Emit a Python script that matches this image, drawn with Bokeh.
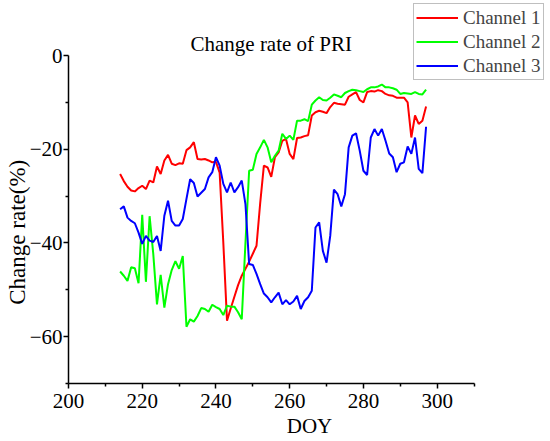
from bokeh.plotting import figure
from bokeh.models import Range1d, FixedTicker, Legend, LegendItem, Label
from bokeh.embed import file_html
from bokeh.resources import INLINE

doy = list(range(214, 298))

channel1 = [-25.3, -26.8, -28.0, -28.8, -29.0, -28.3, -27.8, -28.5, -26.7, -27.1,
            -23.7, -25.3, -22.4, -21.2, -23.1, -23.4, -23.0, -23.1, -20.2, -19.6,
            -18.5, -22.1, -22.2, -22.1, -22.4, -22.8, -22.7, -25.0, -40.0, -56.6,
            -54.0, -51.5, -49.0, -47.0, -45.5, -44.0, -42.3, -40.6, -31.5, -23.5,
            -23.9, -25.9, -21.7, -20.7, -18.2, -17.8, -21.0, -22.1, -17.6, -17.5,
            -17.2, -17.0, -12.8, -12.1, -11.8, -12.0, -12.3, -11.0, -10.1, -10.3,
            -10.4, -10.5, -8.8, -8.3, -7.8, -9.5, -10.0, -7.8, -7.6, -7.7,
            -7.4, -7.6, -8.2, -8.5, -8.6, -9.0, -9.0, -9.0, -10.0, -17.5,
            -12.8, -14.6, -13.9, -10.9]

channel2 = [-46.1, -47.0, -48.1, -45.2, -45.4, -48.6, -34.0, -48.3, -34.3, -42.4,
            -53.1, -46.8, -53.8, -48.8, -45.8, -43.9, -45.5, -42.8, -57.9, -56.3,
            -56.8, -55.6, -53.9, -54.1, -54.7, -53.2, -53.7, -54.1, -55.4, -53.4,
            -53.6, -53.6, -54.8, -56.3, -40.0, -24.6, -24.4, -21.0, -19.6, -18.0,
            -19.6, -22.8, -21.4, -20.3, -16.7, -17.8, -17.1, -18.0, -13.9, -13.9,
            -13.6, -14.0, -10.5, -9.6, -8.9, -9.5, -9.6, -9.0, -8.3, -8.6,
            -8.9, -8.0, -7.6, -7.3, -7.4, -7.6, -7.8, -7.2, -6.8, -6.8,
            -6.6, -6.2, -6.8, -6.8, -7.0, -7.3, -8.2, -8.0, -8.1, -8.2,
            -7.8, -8.2, -8.3, -7.3]

channel3 = [-32.8, -32.2, -34.6, -35.3, -35.8, -37.8, -40.2, -38.5, -39.5, -39.8,
            -38.5, -41.7, -34.2, -31.0, -35.3, -36.3, -36.3, -34.9, -30.6, -26.4,
            -27.2, -30.1, -29.3, -28.5, -26.0, -24.9, -21.7, -23.5, -27.4, -29.2,
            -27.1, -29.2, -28.1, -26.7, -31.7, -44.5, -44.7, -46.6, -48.8, -50.8,
            -51.6, -52.7, -51.6, -50.6, -53.1, -52.2, -53.1, -52.5, -51.3, -54.1,
            -52.4, -51.6, -50.2, -36.7, -35.6, -41.7, -44.2, -38.5, -28.6, -29.6,
            -32.2, -29.6, -19.6, -17.1, -16.6, -20.3, -24.6, -25.5, -17.5, -15.7,
            -17.1, -15.7, -18.2, -20.9, -21.7, -24.9, -23.1, -22.8, -19.4, -21.0,
            -17.5, -24.2, -25.1, -15.2]

series_names = ["Channel 1", "Channel 2", "Channel 3"]
series_colors = ["#FF0000", "#00FF00", "#0000FF"]
title_text = "Change rate of PRI"
x_title = "DOY"
y_title = "Change rate(%)"

x_bounds = (200, 310)
y_bounds = (-70, 0)
x_major = [200, 220, 240, 260, 280, 300]
x_minor = [210, 230, 250, 270, 290, 310]
y_major = [-60, -40, -20, 0]
y_minor = [-70, -50, -30, -10]
y_labels = {-60: "\u221260", -40: "\u221240", -20: "\u221220", 0: "0"}

FONT = "Liberation Serif"

# layout (pixels, canvas coordinates)
W, H = 550, 441
L, B = 68, 58           # left / bottom borders
AX_RIGHT = 473.5        # x pixel of x = 310
AX_TOP = 55             # y pixel of y = 0
frame_w = W - L
frame_h = H - B
xppu = (AX_RIGHT - L) / (x_bounds[1] - x_bounds[0])
yppu = (frame_h - AX_TOP) / (y_bounds[1] - y_bounds[0])
x_end = x_bounds[0] + frame_w / xppu
y_end = y_bounds[1] + AX_TOP / yppu

p = figure(width=W, height=H, output_backend="svg", toolbar_location=None,
           title=None,
           x_range=Range1d(x_bounds[0], x_end), y_range=Range1d(y_bounds[0], y_end),
           min_border_left=L, min_border_right=0, min_border_top=0,
           min_border_bottom=B)

p.outline_line_color = None
p.xgrid.visible = False
p.ygrid.visible = False

renderers = []
for vals, c in zip([channel1, channel2, channel3], series_colors):
    r = p.line(doy, vals, line_color=c, line_width=2)
    renderers.append(r)

title = Label(x=(L + AX_RIGHT) / 2 - L, y=frame_h - 43, x_units="screen", y_units="screen",
              text=title_text, text_font=FONT, text_font_size="21px",
              text_align="center", text_baseline="alphabetic", text_color="black")
p.add_layout(title)

legend = Legend(items=[LegendItem(label=n, renderers=[r]) for n, r in zip(series_names, renderers)],
                location=(345, frame_h - 80))
legend.label_text_font = FONT
legend.label_text_font_size = "19px"
legend.glyph_width = 42
legend.glyph_height = 23
legend.label_height = 23
legend.label_standoff = 5
legend.spacing = 1
legend.padding = 2
legend.margin = 0
legend.border_line_color = "#808080"
legend.border_line_width = 1
legend.background_fill_alpha = 1
p.add_layout(legend)

for ax in (p.xaxis[0], p.yaxis[0]):
    ax.axis_line_color = "black"
    ax.axis_line_width = 1.5
    ax.major_tick_line_width = 1.5
    ax.minor_tick_line_width = 1.5
    ax.major_tick_out = 5
    ax.major_tick_in = 0
    ax.minor_tick_out = 3
    ax.minor_tick_in = 0
    ax.major_label_text_font = FONT
    ax.major_label_text_font_size = "21px"
    ax.major_label_text_color = "black"
    ax.axis_label_text_font = FONT
    ax.axis_label_text_font_style = "normal"
    ax.axis_label_text_color = "black"

p.xaxis.bounds = x_bounds
p.yaxis.bounds = y_bounds
p.xaxis.axis_label_text_font_size = "21px"
p.yaxis.axis_label_text_font_size = "23px"
p.xaxis.ticker = FixedTicker(ticks=x_major, minor_ticks=x_minor)
p.yaxis.ticker = FixedTicker(ticks=y_major, minor_ticks=y_minor)
p.yaxis.major_label_overrides = y_labels
p.xaxis.axis_label = x_title
# trailing no-break spaces shift the visible label toward the lower part of the axis
p.yaxis.axis_label = y_title + "\u00a0" * 14
p.xaxis.major_label_standoff = 5
p.yaxis.major_label_standoff = 1
p.xaxis.axis_label_standoff = 3
p.yaxis.axis_label_standoff = -3

open("out.html", "w").write(file_html(p, INLINE))
